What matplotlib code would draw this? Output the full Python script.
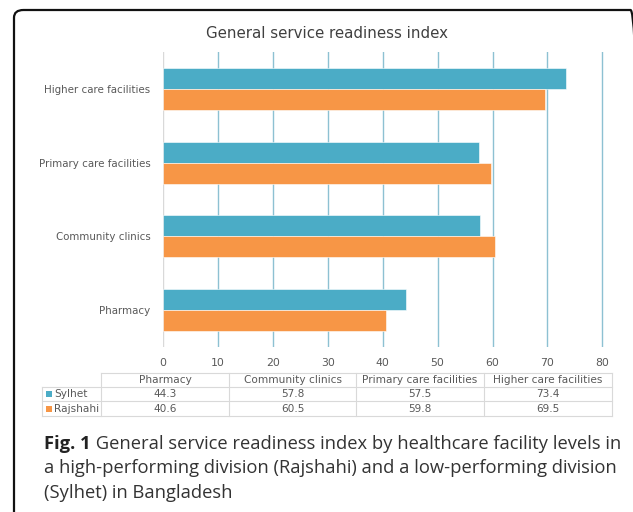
import matplotlib.pyplot as plt
from matplotlib.patches import FancyBboxPatch, Rectangle
import numpy as np

# data
categories = ['Pharmacy', 'Community clinics', 'Primary care facilities', 'Higher care facilities']
sylhet = [44.3, 57.8, 57.5, 73.4]
rajshahi = [40.6, 60.5, 59.8, 69.5]
series_names = ['Sylhet', 'Rajshahi']
colors = ['#4bacc6', '#f79646']
xticks = [0, 10, 20, 30, 40, 50, 60, 70, 80]

W, H = 633, 512
fig = plt.figure(figsize=(W / 100, H / 100), dpi=100)
plt.rcParams['font.family'] = 'DejaVu Sans'
gray = '#595959'

def fx(px):
    return px / W

def fy(py):
    return 1 - py / H

# rounded frame around the figure
frame = FancyBboxPatch((fx(14), fy(540)), fx(640) - fx(14), fy(10) - fy(540),
                       boxstyle='round,pad=0,rounding_size=0.015',
                       transform=fig.transFigure, fill=False, ec='#111111', lw=1.6)
fig.patches.append(frame)

# main axes
ax = fig.add_axes([fx(163), fy(347), fx(604) - fx(163), fy(52) - fy(347)])
y = np.arange(len(categories))
bh = 0.285
ax.barh(y + bh / 2, sylhet, height=bh, color=colors[0], zorder=3, ec='white', lw=0.4)
ax.barh(y - bh / 2, rajshahi, height=bh, color=colors[1], zorder=3, ec='white', lw=0.4)
for t in xticks[1:]:
    ax.axvline(t, color='#8dc1d2', lw=1.0, zorder=1)
ax.axvline(0, color='#d9d9d9', lw=1.0, zorder=1)
ax.set_xlim(0, 80.3)
ax.set_ylim(-0.5, 3.5)
ax.set_yticks(y)
ax.set_yticklabels(categories, fontsize=7.4, color=gray)
ax.set_xticks(xticks)
ax.set_xticklabels([str(t) for t in xticks], fontsize=7.8, color=gray)
ax.tick_params(length=0)
ax.tick_params(axis='y', pad=9)
ax.tick_params(axis='x', pad=8)
for s in ax.spines.values():
    s.set_visible(False)
ax.set_facecolor('none')

fig.text(fx(327), fy(33), 'General service readiness index', ha='center', va='center',
         fontsize=10.8, color='#404040')

# data table under the axis
tax = fig.add_axes([0, 0, 1, 1])
tax.set_xlim(0, W)
tax.set_ylim(H, 0)
tax.axis('off')
col_edges = [42, 101, 229, 356, 484, 612]
row_edges = [373, 387, 401, 416]
lc = '#d9d9d9'
# horizontal lines
tax.plot([col_edges[1], col_edges[-1]], [row_edges[0]] * 2, color=lc, lw=0.8)
for r in row_edges[1:]:
    tax.plot([col_edges[0], col_edges[-1]], [r, r], color=lc, lw=0.8)
# vertical lines
tax.plot([col_edges[0]] * 2, [row_edges[1], row_edges[-1]], color=lc, lw=0.8)
for c in col_edges[1:]:
    tax.plot([c, c], [row_edges[0], row_edges[-1]], color=lc, lw=0.8)
fs_tab = 7.6
for i, cat in enumerate(categories):
    cx = (col_edges[i + 1] + col_edges[i + 2]) / 2
    tax.text(cx, (row_edges[0] + row_edges[1]) / 2, cat, ha='center', va='center',
             fontsize=fs_tab, color=gray)
for j, vals in enumerate([sylhet, rajshahi]):
    cy = (row_edges[j + 1] + row_edges[j + 2]) / 2
    tax.add_patch(Rectangle((col_edges[0] + 4, cy - 3), 6, 6, color=colors[j], lw=0))
    tax.text(col_edges[0] + 12, cy, series_names[j], ha='left', va='center',
             fontsize=fs_tab, color=gray)
    for i, v in enumerate(vals):
        cx = (col_edges[i + 1] + col_edges[i + 2]) / 2
        tax.text(cx, cy, f'{v:.1f}', ha='center', va='center', fontsize=fs_tab, color=gray)

# caption
cap_font = ['Open Sans', 'DejaVu Sans']
cap_fs = 13.2
bold = fig.text(fx(44), fy(453), 'Fig. 1', fontsize=cap_fs, fontweight='bold',
                family=cap_font, color='#222222', va='bottom', ha='left')
fig.add_artist(plt.Annotation(' General service readiness index by healthcare facility levels in',
                              xy=(1, 0), xycoords=bold, va='bottom', ha='left',
                              fontsize=cap_fs, family=cap_font, color='#333333'))
fig.text(fx(44), fy(468), 'a high-performing division (Rajshahi) and a low-performing division',
         fontsize=cap_fs, family=cap_font, color='#333333', va='center', ha='left')
fig.text(fx(44), fy(493), '(Sylhet) in Bangladesh',
         fontsize=cap_fs, family=cap_font, color='#333333', va='center', ha='left')

fig.savefig('out.png', dpi=100)
